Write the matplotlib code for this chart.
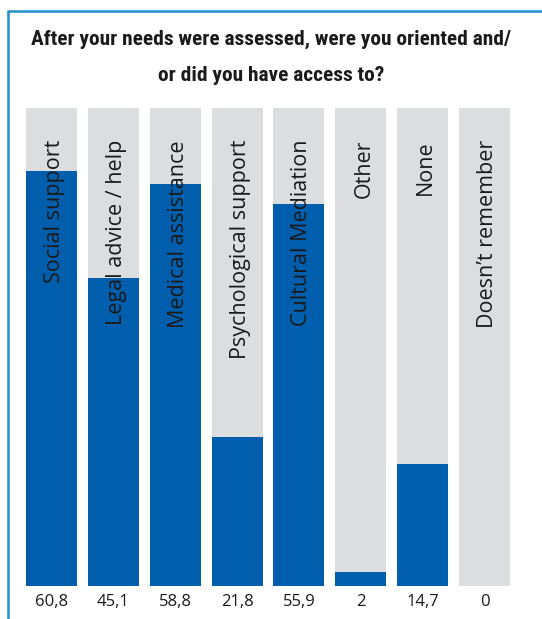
import matplotlib
matplotlib.use("Agg")
import matplotlib.pyplot as plt
from matplotlib import font_manager
from matplotlib.lines import Line2D

categories = ["Social support", "Legal advice / help", "Medical assistance",
              "Psychological support", "Cultural Mediation", "Other", "None",
              "Doesn\u2019t remember"]
# bar heights as drawn in the picture
bar_values = [60.8, 45.1, 58.8, 21.8, 55.9, 2, 17.8, 0]
value_labels = ["60,8", "45,1", "58,8", "21,8", "55,9", "2", "14,7", "0"]
title_lines = ["After your needs were assessed, were you oriented and/",
               "or did you have access to?"]
axis_max = 70

BLUE = "#005eac"
GREY = "#dcdddf"
BORDER = "#2a93cf"
TEXT = "#1a1a1a"

names = {f.name for f in font_manager.fontManager.ttflist}
if "Roboto Condensed" in names:
    title_font = dict(family="Roboto Condensed", fontweight="bold")
elif "Liberation Sans Narrow" in names:
    title_font = dict(family="Liberation Sans Narrow", fontweight="bold")
else:
    title_font = dict(family="DejaVu Sans", fontstretch="condensed", fontweight="bold")

W, H = 542, 619
fig = plt.figure(figsize=(W / 100, H / 100), dpi=100)
fig.patch.set_facecolor("white")

ax = fig.add_axes([20.6 / W, (H - 586) / H, 494.8 / W, 478 / H])
x = list(range(len(categories)))
ax.bar(x, [axis_max] * len(x), width=0.825, color=GREY, zorder=1)
ax.bar(x, bar_values, width=0.825, color=BLUE, zorder=2)
ax.set_xlim(-0.5, len(x) - 0.5)
ax.set_ylim(0, axis_max)
ax.axis("off")

for i, (cat, lab) in enumerate(zip(categories, value_labels)):
    ax.annotate(cat, xy=(i, axis_max), xytext=(3, -32), textcoords="offset pixels",
                rotation=90, ha="center", va="top", fontsize=15.5,
                family="Open Sans", color=TEXT, zorder=3)
    ax.annotate(lab, xy=(i, 0), xytext=(0, -16), textcoords="offset pixels",
                ha="center", va="center", fontsize=12, family="Open Sans",
                color=TEXT, annotation_clip=False)

# title: fit first line to the reference width (~480 px)
t1 = fig.text(271 / W, 1 - 45 / H, title_lines[0], ha="center", va="baseline",
              color=TEXT, fontsize=14, **title_font)
t2 = fig.text(271 / W, 1 - 81 / H, title_lines[1], ha="center", va="baseline",
              color=TEXT, fontsize=14, **title_font)
renderer = fig.canvas.get_renderer()
w = t1.get_window_extent(renderer).width
size = min(14 * 482 / w, 19)
t1.set_fontsize(size)
t2.set_fontsize(size)

fig.add_artist(Line2D([8 / W, 8 / W], [0, 1 - 11 / H], color=BORDER, lw=1.9,
                      transform=fig.transFigure, solid_capstyle="butt"))
fig.add_artist(Line2D([7 / W, 1], [1 - 11 / H, 1 - 11 / H], color=BORDER, lw=1.9,
                      transform=fig.transFigure, solid_capstyle="butt"))

fig.savefig("out.png", dpi=100)
